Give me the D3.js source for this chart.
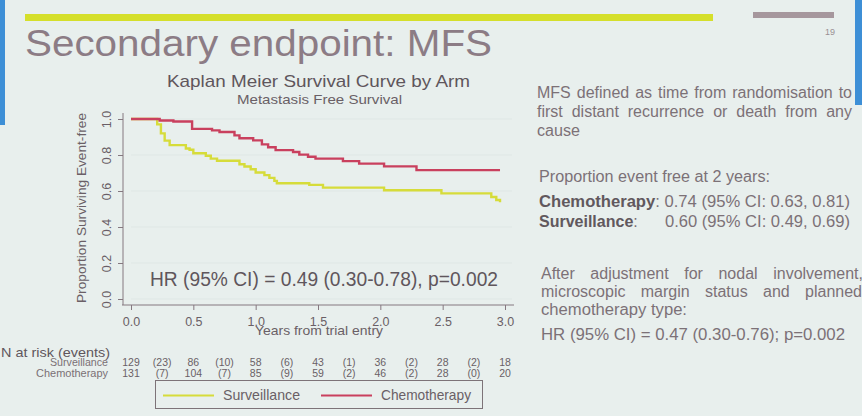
<!DOCTYPE html>
<html>
<head>
<meta charset="utf-8">
<script src="https://cdn.jsdelivr.net/npm/d3@7"></script>
<style>
  html, body { margin: 0; padding: 0; background: #e8efed; }
  svg { display: block; font-family: "Liberation Sans", Arial, sans-serif; }
</style>
</head>
<body>
<svg id="slide" width="862" height="416"></svg>
<script>
// steps: [years, proportion event-free]
var survTimes = [0, 0.21, 0.24, 0.27, 0.31, 0.44, 0.47, 0.50, 0.60, 0.64, 0.69, 0.87, 0.91, 0.96, 1.00, 1.07, 1.11, 1.15, 1.17, 1.43, 1.54, 2.03, 2.49, 2.89, 2.93, 2.96];
var survValues = [1.0, 0.97, 0.92, 0.88, 0.855, 0.836, 0.829, 0.81, 0.796, 0.78, 0.768, 0.749, 0.736, 0.721, 0.703, 0.688, 0.673, 0.656, 0.643, 0.634, 0.619, 0.604, 0.587, 0.567, 0.55, 0.537];
var chemoTimes = [0, 0.23, 0.34, 0.49, 0.65, 0.71, 0.83, 0.87, 0.98, 1.05, 1.10, 1.16, 1.30, 1.35, 1.42, 1.48, 1.70, 1.83, 2.03, 2.29, 2.96];
var chemoValues = [1.0, 0.992, 0.986, 0.945, 0.937, 0.928, 0.909, 0.893, 0.881, 0.859, 0.843, 0.827, 0.817, 0.802, 0.79, 0.78, 0.766, 0.752, 0.737, 0.716, 0.716];

var xTicks = [0, 0.5, 1.0, 1.5, 2.0, 2.5, 3.0];
var yTicks = [0, 0.2, 0.4, 0.6, 0.8, 1.0];

// numbers at risk at each half year, events in the intervals between
var riskTimes = [0, 0.5, 1.0, 1.5, 2.0, 2.5, 3.0];
var survAtRisk = [129, 86, 58, 43, 36, 28, 18];
var survEvents = [23, 10, 6, 1, 2, 2];
var chemoAtRisk = [131, 104, 85, 59, 46, 28, 20];
var chemoEvents = [7, 7, 9, 2, 2, 0];

var armNames = ['Surveillance', 'Chemotherapy'];
var armColors = ['#d6dc3a', '#c9405e'];

var svg = d3.select('#slide');

// stretch a text to the width it has in the photo
function fit(t, width) {
    return t.attr('textLength', width).attr('lengthAdjust', 'spacingAndGlyphs');
}

// projector screen edges
svg.append('rect').attr('x', 0).attr('y', 0).attr('width', 5).attr('height', 125).attr('fill', '#3d8fd6');
svg.append('rect').attr('x', 855).attr('y', 0).attr('width', 7).attr('height', 105).attr('fill', '#3d8fd6');

// slide header
svg.append('rect').attr('x', 25).attr('y', 14).attr('width', 688).attr('height', 7).attr('fill', '#d5df2b');
svg.append('rect').attr('x', 753).attr('y', 12).attr('width', 81).attr('height', 6).attr('fill', '#a6979d');
svg.append('text').attr('x', 835).attr('y', 35).attr('text-anchor', 'end')
    .style('font-size', '9px').attr('fill', '#9a8f94').text('19');
fit(svg.append('text').attr('x', 25).attr('y', 56)
    .style('font-size', '36px').attr('fill', '#8c7c85').text('Secondary endpoint: MFS'), 467);

// chart
var x = d3.scaleLinear().domain([0, 3]).range([131, 505]);
var y = d3.scaleLinear().domain([0, 1]).range([299, 119]);
var axisColor = '#857880';
var labelColor = '#6a5f66';

fit(svg.append('text').attr('x', 167).attr('y', 87)
    .style('font-size', '17px').attr('fill', '#5f565c').text('Kaplan Meier Survival Curve by Arm'), 303);
fit(svg.append('text').attr('x', 237).attr('y', 104)
    .style('font-size', '13px').attr('fill', '#6a5f66').text('Metastasis Free Survival'), 165);

// faint grid
svg.append('g').selectAll('line').data(yTicks).enter().append('line')
    .attr('x1', 131).attr('x2', 512)
    .attr('y1', function(d) { return y(d); })
    .attr('y2', function(d) { return y(d); })
    .attr('stroke', '#dfe7e5').attr('stroke-width', 1);

var xAxis = svg.append('g').attr('transform', 'translate(0,305)')
    .call(d3.axisBottom(x).tickValues(xTicks).tickFormat(d3.format('.1f')).tickSize(5).tickSizeOuter(0));
xAxis.select('.domain').remove();
xAxis.selectAll('line').attr('stroke', axisColor);
xAxis.selectAll('text').attr('fill', labelColor).style('font-size', '12.5px').attr('dy', '1em');
xAxis.append('line').attr('x1', 122).attr('x2', 514).attr('y1', 0).attr('y2', 0).attr('stroke', axisColor);

var yAxis = svg.append('g').attr('transform', 'translate(123,0)')
    .call(d3.axisLeft(y).tickValues(yTicks).tickFormat(d3.format('.1f')).tickSize(5).tickSizeOuter(0));
yAxis.select('.domain').remove();
yAxis.selectAll('line').attr('stroke', axisColor);
yAxis.selectAll('text')
    .attr('fill', labelColor).style('font-size', '12.5px')
    .attr('text-anchor', 'middle').attr('x', 0).attr('dy', 0)
    .attr('transform', 'translate(-12,0) rotate(-90)');
yAxis.append('line').attr('x1', 0).attr('x2', 0).attr('y1', 113).attr('y2', 305).attr('stroke', axisColor);

fit(svg.append('text').attr('transform', 'translate(86,303) rotate(-90)')
    .style('font-size', '13px').attr('fill', labelColor).text('Proportion Surviving Event-free'), 190);
fit(svg.append('text').attr('x', 255).attr('y', 335)
    .style('font-size', '13px').attr('fill', labelColor).text('Years from trial entry'), 128);

var step = d3.line()
    .x(function(d) { return x(d[0]); })
    .y(function(d) { return y(d[1]); })
    .curve(d3.curveStepAfter);

var survData = d3.zip(survTimes, survValues);
var chemoData = d3.zip(chemoTimes, chemoValues);
[survData, chemoData].forEach(function(data, i) {
    svg.append('path').datum(data)
        .attr('d', step)
        .attr('fill', 'none')
        .attr('stroke', armColors[i])
        .attr('stroke-width', 2.4);
});

fit(svg.append('text').attr('x', 150).attr('y', 286)
    .style('font-size', '19.5px').attr('fill', '#5f565c').text('HR (95% CI) = 0.49 (0.30-0.78), p=0.002'), 348);

// numbers at risk
fit(svg.append('text').attr('x', 1).attr('y', 357).style('font-size', '13.5px').attr('fill', '#5f565c')
    .text('N at risk (events)'), 109);
var tableRows = [[survAtRisk, survEvents, 366, 58], [chemoAtRisk, chemoEvents, 377, 72]];
tableRows.forEach(function(row, i) {
    fit(svg.append('text').attr('x', 108 - row[3]).attr('y', row[2])
        .style('font-size', '10.5px').attr('fill', '#7a6f75').text(armNames[i]), row[3]);
    svg.append('g').selectAll('text').data(row[0]).enter().append('text')
        .attr('x', function(d, j) { return x(riskTimes[j]); })
        .attr('y', row[2]).attr('text-anchor', 'middle')
        .style('font-size', '10.5px').attr('fill', '#6a5f66')
        .text(function(d) { return d; });
    svg.append('g').selectAll('text').data(row[1]).enter().append('text')
        .attr('x', function(d, j) { return x((riskTimes[j] + riskTimes[j + 1]) / 2); })
        .attr('y', row[2]).attr('text-anchor', 'middle')
        .style('font-size', '10.5px').attr('fill', '#6a5f66')
        .text(function(d) { return '(' + d + ')'; });
});

// legend
var legend = svg.append('g');
legend.append('rect').attr('x', 155.5).attr('y', 380.5).attr('width', 327).attr('height', 28)
    .attr('fill', 'none').attr('stroke', '#7d7378').attr('stroke-width', 1);
var legendX = [163, 321];
var legendW = [77, 90];
armNames.forEach(function(name, i) {
    legend.append('line').attr('x1', legendX[i]).attr('x2', legendX[i] + 51)
        .attr('y1', 395.5).attr('y2', 395.5).attr('stroke', armColors[i]).attr('stroke-width', 2.2);
    fit(legend.append('text').attr('x', legendX[i] + 60).attr('y', 400)
        .style('font-size', '15px').attr('fill', '#6a5f66').text(name), legendW[i]);
});

// right-hand notes
var noteColor = '#7c7177';
function note(txt, xPos, yPos, right, justify) {
    var t = svg.append('text').attr('x', xPos).attr('y', yPos)
        .style('font-size', '16px').attr('fill', noteColor).text(txt);
    if (justify) {
        var w = t.node().getComputedTextLength();
        var gaps = txt.split(' ').length - 1;
        t.style('word-spacing', Math.max(0, (right - xPos - w) / gaps) + 'px');
    } else if (right) {
        fit(t, right - xPos);
    }
    return t;
}
note('MFS defined as time from randomisation to', 537, 98, 852, true);
note('first distant recurrence or death from any', 537, 117, 852, true);
note('cause', 537, 136, 580);
note('Proportion event free at 2 years:', 539, 182, 770);

var chemoLine = fit(svg.append('text').attr('x', 539).attr('y', 207).style('font-size', '16px').attr('fill', noteColor), 311);
chemoLine.append('tspan').style('font-weight', 'bold').attr('fill', '#61585d').text('Chemotherapy');
chemoLine.append('tspan').text(': 0.74 (95% CI: 0.63, 0.81)');
var survLine = svg.append('text').attr('x', 539).attr('y', 227).style('font-size', '16px').attr('fill', noteColor);
survLine.append('tspan').style('font-weight', 'bold').attr('fill', '#61585d').text('Surveillance');
survLine.append('tspan').text(':');
fit(svg.append('text').attr('x', 665).attr('y', 227).style('font-size', '16px').attr('fill', noteColor)
    .text('0.60 (95% CI: 0.49, 0.69)'), 185);

note('After adjustment for nodal involvement,', 541, 279, 863, true);
note('microscopic margin status and planned', 541, 297, 862, true);
note('chemotherapy type:', 541, 315, 687);
note('HR (95% CI) = 0.47 (0.30-0.76); p=0.002', 541, 340, 845);
</script>
</body>
</html>
